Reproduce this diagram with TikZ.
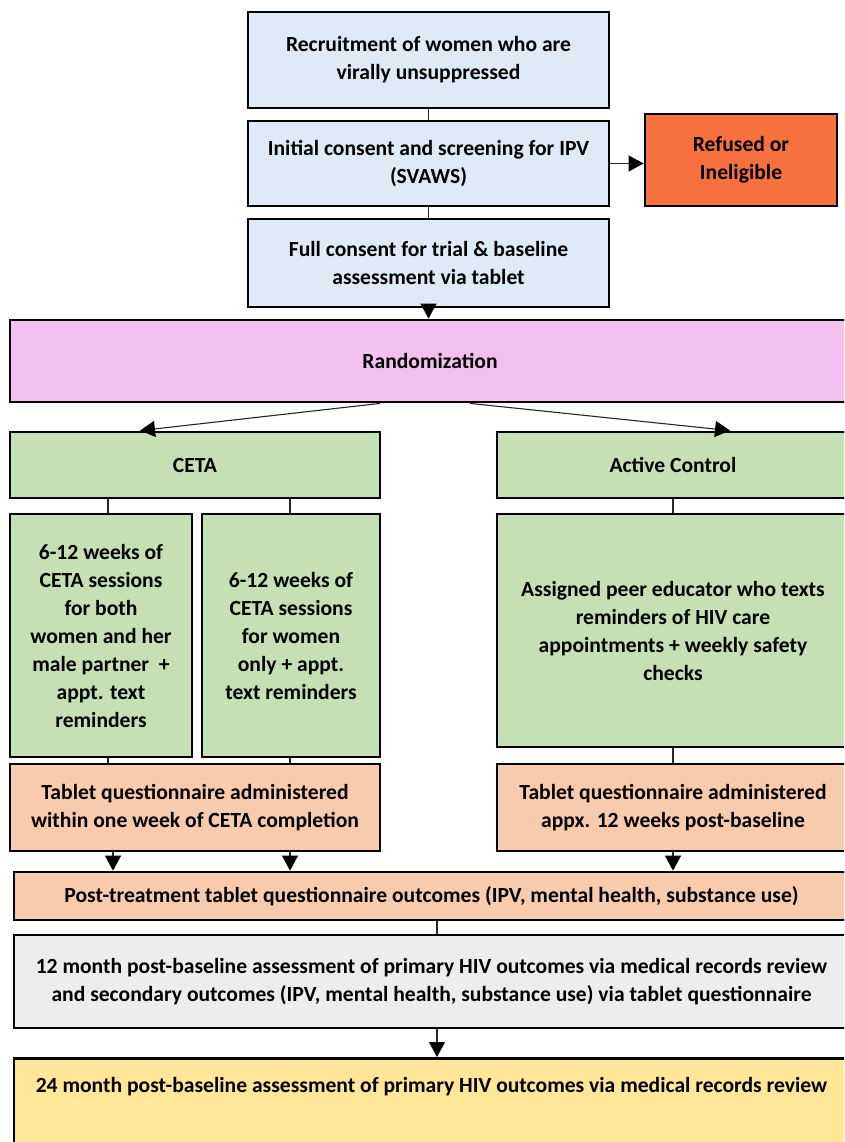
\documentclass[tikz,border=0pt]{standalone}
\usepackage{fontspec}
\setmainfont{Carlito}
\usepackage{tikz}
\usetikzlibrary{arrows.meta}
\definecolor{stepblue}{HTML}{DEEBF7}
\definecolor{refusedred}{RGB}{246,112,64}
\definecolor{randpink}{RGB}{243,192,240}
\definecolor{armgreen}{HTML}{C5E0B4}
\definecolor{tabpeach}{HTML}{F8CBAD}
\definecolor{fupgray}{HTML}{EDEDED}
\definecolor{fupyellow}{HTML}{FFE699}
\tikzset{
  box/.style={draw=black, line width=2.8pt, align=center, inner sep=0pt,
    font=\fontsize{21.6}{28}\selectfont\bfseries},
  link/.style={draw=black!85, line width=1.1pt},
  tip/.style={-{Triangle[length=15pt,width=16pt,color=black]}}
}

\begin{document}
\begin{tikzpicture}[x=1pt,y=-1pt]
  \useasboundingbox (0,0) rectangle (844,1142);
  \clip (0,0) rectangle (844,1142);

  \node[box, fill=stepblue, minimum width=361, minimum height=96] (recruit) at (428.5,60) {Recruitment of women who are\\virally unsuppressed};
  \node[box, fill=stepblue, minimum width=361, minimum height=85] (screen) at (428.5,163.5) {Initial consent and screening for IPV\\(SVAWS)};
  \node[box, fill=refusedred, minimum width=192, minimum height=92] (refused) at (741,160) {Refused or\\Ineligible};
  \node[box, fill=stepblue, minimum width=361, minimum height=88] (consent) at (428.5,263) {Full consent for trial \& baseline\\assessment via tablet};
  \node[box, fill=randpink, minimum width=840, minimum height=82] (rand) at (430,361) {Randomization};

  \node[box, fill=armgreen, minimum width=370, minimum height=66] (ceta) at (195,465) {CETA};
  \node[box, fill=armgreen, minimum width=352, minimum height=66] (active) at (673,465) {Active Control};
  \node[box, fill=armgreen, minimum width=182, minimum height=243] (couple) at (101,635.5) {6-12 weeks of\\CETA sessions\\for both\\women and her\\male partner~ +\\appt. text\\reminders};
  \node[box, fill=armgreen, minimum width=178, minimum height=243] (single) at (291,635.5) {6-12 weeks of\\CETA sessions\\for women\\only + appt.\\text reminders};
  \node[box, fill=armgreen, minimum width=352, minimum height=233] (peer) at (673,630.5) {Assigned peer educator who texts\\reminders of HIV care\\appointments + weekly safety\\checks};

  \node[box, fill=tabpeach, minimum width=370, minimum height=87] (tabceta) at (195,807.5) {Tablet questionnaire administered\\within one week of CETA completion};
  \node[box, fill=tabpeach, minimum width=352, minimum height=87] (tabctrl) at (673,807.5) {Tablet questionnaire administered\\appx. 12 weeks post-baseline};
  \node[box, fill=tabpeach, minimum width=835, minimum height=48] (post) at (431.5,896) {Post-treatment tablet questionnaire outcomes (IPV, mental health, substance use)};
  \node[box, fill=fupgray, minimum width=835, minimum height=93] (month12) at (431.5,981.5) {12 month post-baseline assessment of primary HIV outcomes via medical records review\\and secondary outcomes (IPV, mental health, substance use) via tablet questionnaire};
  \node[box, fill=fupyellow, minimum width=835, text height=34pt, text depth=120pt, anchor=north] (month24) at (431.5,1057) {24 month post-baseline assessment of primary HIV outcomes via medical records review};

  \draw [link] (recruit) -- (screen);
  \draw [link] (screen) -- (consent);
  \draw [link][tip] (screen.east) -- (refused.west |- screen.east);
  \draw [link][tip] (consent.south) -- (consent.south |- rand.north);
  \draw [link][tip] (rand.south -| 380,0) -- (ceta.north -| 140,0);
  \draw [link][tip] (rand.south -| 470,0) -- (active.north -| 730,0);

  \draw [link] (ceta.south -| 108,0) -- (couple.north -| 108,0);
  \draw [link] (ceta.south -| 290,0) -- (single.north -| 290,0);
  \draw [link] (active) -- (peer);
  \draw [link] (couple.south -| 108,0) -- (tabceta.north -| 108,0);
  \draw [link] (single.south -| 290,0) -- (tabceta.north -| 290,0);
  \draw [link] (peer) -- (tabctrl);

  \draw [link][tip] (tabceta.south -| 113,0) -- (post.north -| 113,0);
  \draw [link][tip] (tabceta.south -| 290,0) -- (post.north -| 290,0);
  \draw [link][tip] (tabctrl.south) -- (post.north -| tabctrl.south);
  \draw [link] (post.south -| 437,0) -- (month12.north -| 437,0);
  \draw [link][tip] (month12.south -| 437,0) -- (month24.north -| 437,0);
\end{tikzpicture}
\end{document}
